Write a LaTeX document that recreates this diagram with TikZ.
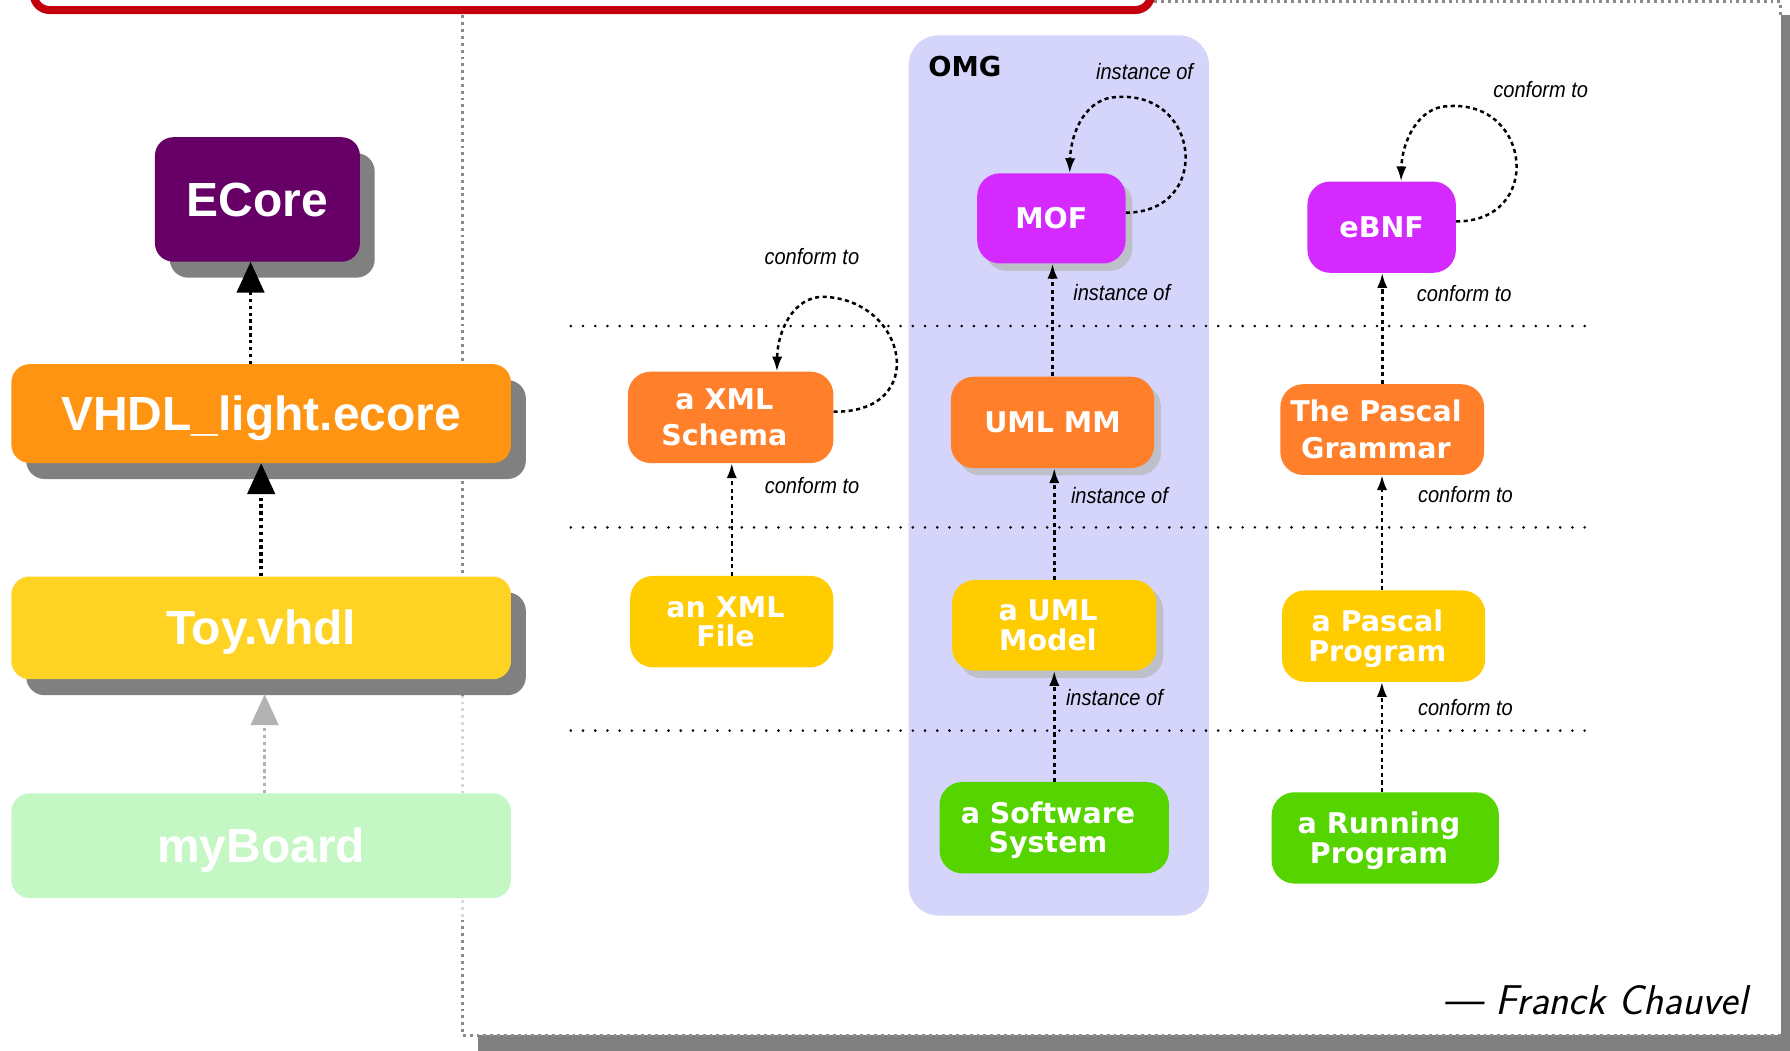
\documentclass[tikz,border=0pt]{standalone}
\usepackage{fontspec}
\usetikzlibrary{arrows.meta,shadows}

\newfontfamily\headfont{Liberation Sans}
\newfontfamily\boxfont{DejaVu Sans}
\newfontfamily\labelfont[FakeStretch=0.9]{Liberation Sans}

% two centred lines whose reference point is the first baseline
\newcommand\boxlines[2]{\vtop{\halign{\hfil##\hfil\cr#1\cr#2\cr}}\kern11pt}

\definecolor{ecorepurple}{HTML}{660066}
\definecolor{vhdlorange}{HTML}{FF9412}
\definecolor{toyyellow}{HTML}{FFD323}
\definecolor{boardgreen}{HTML}{C4F7C4}
\definecolor{omgblue}{HTML}{D5D5FC}
\definecolor{mmagenta}{HTML}{D42AFF}
\definecolor{morange}{HTML}{FF7F2A}
\definecolor{myellow}{HTML}{FFCC00}
\definecolor{mgreen}{HTML}{55D400}
\definecolor{framered}{HTML}{C4000C}
\definecolor{framegray}{HTML}{8A8A8A}
\definecolor{fadedgray}{HTML}{D8D8D8}
\definecolor{fadedarrow}{HTML}{B3B3B3}
\definecolor{shadowgray}{HTML}{808080}
\definecolor{softshadowgray}{HTML}{BFBFC9}

\begin{document}
\begin{tikzpicture}[x=1pt,y=-1pt,
  hardshadow/.style={drop shadow={shadow xshift=13pt,shadow yshift=-14pt,fill=shadowgray,opacity=1}},
  softshadow/.style={drop shadow={shadow xshift=6pt,shadow yshift=-6.5pt,fill=softshadowgray,opacity=1}},
  bigbox/.style={rounded corners=16pt,inner sep=0pt,minimum width=437.6pt,text=white,
    font=\headfont\bfseries\fontsize{42}{48}\selectfont,text height=30pt,text depth=0pt},
  mbox/.style={rounded corners=20pt,inner sep=0pt,minimum height=80pt,text=white,
    font=\boxfont\bfseries\fontsize{25}{26}\selectfont,text height=18pt,text depth=0pt},
  spreadwide/.style={font=\boxfont\bfseries\fontsize{25}{32}\selectfont,text depth=32pt},
  spreadnarrow/.style={text depth=26pt},
  lbl/.style={anchor=base west,inner sep=0pt,font=\labelfont\itshape\fontsize{19.5}{22}\selectfont},
  conn/.style={-{Latex[length=13pt,width=9pt]},line width=2.2pt,dash pattern=on 3.6pt off 3pt},
  bigarr/.style={-{Triangle[length=27pt,width=24pt]},line width=3pt,dash pattern=on 3pt off 3pt},
  fadearr/.style={bigarr,draw=fadedarrow,fill=fadedarrow},
  framedots/.style={draw=framegray,line width=2.5pt,dash pattern=on 2.5pt off 3.5pt},
  sepline/.style={line width=2.5pt,line cap=round,dash pattern=on 0pt off 10.7pt}
]
\useasboundingbox (0,0) rectangle (1568,920);
\clip (0,0) rectangle (1568,920);

% framed area with its drop shadow
\fill[shadowgray] (419,13.5) rectangle (1574,921);
\fill[white] (405,1.5) rectangle (1560,907);
\draw[framedots] (405,1.5) -- (1560,1.5) -- (1560,13);
\draw[framedots] (1560,907) -- (405,907) -- (405,803);
\draw[framedots,draw=fadedgray] (405,803) -- (405,610);
\draw[framedots] (405,610) -- (405,1.5);

% red frame along the top
\draw[framered,line width=7pt,fill=white,rounded corners=14pt] (29.5,-60) rectangle (1008.5,8.8);

% OMG area
\fill[omgblue,rounded corners=26pt] (796,31) rectangle (1059,802);
\node[anchor=base west,inner sep=0pt,font=\boxfont\bfseries\fontsize{24}{28}\selectfont] (omg) at (813,67) {OMG};

% level separators
\draw[sepline] (500,285.6) -- (1396,285.6);
\draw[sepline] (500,462) -- (1396,462);
\draw[sepline] (500,640) -- (1396,640);

% left column
\node[bigbox,fill=ecorepurple,hardshadow,minimum width=179.5pt,minimum height=109pt] (ecore) at (225.5,174.7) {ECore};
\node[bigbox,fill=vhdlorange,hardshadow,minimum height=86.6pt] (vhdl) at (228.8,362.3) {VHDL\_light.ecore};
\node[bigbox,fill=toyyellow,hardshadow,minimum height=90pt] (toy) at (228.8,550) {Toy.vhdl};
\node[bigbox,fill=boardgreen,minimum height=91.7pt] (myboard) at (228.8,740.8) {myBoard};

\draw[bigarr] ([xshift=-6pt]ecore.south |- vhdl.north) -- ([xshift=-6pt]ecore.south);
\draw[bigarr] (toy.north) -- (vhdl.south);
\draw[fadearr] ([xshift=3pt]myboard.north) -- ([xshift=3pt,yshift=-13pt]toy.south);

% right part: models and metamodels
\node[mbox,fill=mmagenta,softshadow,minimum width=130pt,minimum height=79pt] (mof) at (921,191.3) {MOF};
\node[mbox,fill=mmagenta,minimum width=130pt] (ebnf) at (1210.3,199) {eBNF};
\node[mbox,spreadwide,fill=morange,minimum width=180pt] (xsd) at (640,365.6) {\boxlines{a XML}{Schema}};
\node[mbox,fill=morange,softshadow,minimum width=178pt] (umlmm) at (922,370) {UML MM};
\node[mbox,spreadwide,fill=morange,minimum width=178.5pt,minimum height=79.5pt] (pasg) at (1210.8,376.3) {\boxlines{The Pascal}{Grammar}};
\node[mbox,spreadnarrow,fill=myellow,minimum width=178pt] (xmlf) at (641,544.5) {\boxlines{an XML}{File}};
\node[mbox,spreadnarrow,fill=myellow,softshadow,minimum width=179pt,minimum height=79.5pt] (umlm) at (923.5,547.8) {\boxlines{a UML}{Model}};
\node[mbox,spreadnarrow,fill=myellow,minimum width=178pt] (pasp) at (1212,557.2) {\boxlines{a Pascal}{Program}};
\node[mbox,spreadnarrow,fill=mgreen,minimum width=201pt] (sws) at (923.5,725) {\boxlines{a Software}{System}};
\node[mbox,spreadnarrow,fill=mgreen,minimum width=199pt] (run) at (1213.5,734) {\boxlines{a Running}{Program}};

% relations
\draw[conn] (umlmm.north) -- (umlmm.north |- mof.south);
\draw[conn] (umlm.north) -- (umlm.north |- umlmm.south);
\draw[conn] (sws.north) -- (sws.north |- umlm.south);
\draw[conn] (xmlf.north) -- (xmlf.north |- xsd.south);
\draw[conn] (pasg.north) -- (pasg.north |- ebnf.south);
\draw[conn] ([xshift=-1.4pt]pasp.north) -- ([xshift=-1.4pt]pasp.north |- pasg.south);
\draw[conn] ([xshift=-3pt]run.north) -- ([xshift=-3pt]run.north |- pasp.south);

\draw[conn] ([yshift=5pt]mof.east) .. controls (1062,186) and (1052,80) .. (979,85)
  .. controls (952,85) and (938,115) .. ([xshift=16pt]mof.north);
\draw[conn] ([yshift=5pt]ebnf.east) .. controls (1352,194) and (1342,88) .. (1269,93)
  .. controls (1242,93) and (1228,125) .. ([xshift=17pt]ebnf.north);
\draw[conn] ([yshift=5pt]xsd.east) .. controls (815,362) and (795,262) .. (721,260)
  .. controls (695,260) and (681,290) .. ([xshift=40.6pt]xsd.north);

% relation labels
\node[lbl] (mofself) at (960,70) {instance of};
\node[lbl] (mofinst) at (940,263.5) {instance of};
\node[lbl] (mminst) at (938,441) {instance of};
\node[lbl] (modelinst) at (933.6,617.6) {instance of};
\node[lbl] (ebnfself) at (1308,85) {conform to};
\node[lbl] (gramconf) at (1241,264) {conform to};
\node[lbl] (progconf) at (1242,440) {conform to};
\node[lbl] (runconf) at (1242,627) {conform to};
\node[lbl] (xsdself) at (669.5,232) {conform to};
\node[lbl] (fileconf) at (669.7,432) {conform to};

% signature
\node[anchor=base west,inner sep=0pt,font=\sffamily\itshape\fontsize{36.5}{42}\selectfont] (author) at (1264,889) {\textemdash\ Franck Chauvel};
\end{tikzpicture}
\end{document}
